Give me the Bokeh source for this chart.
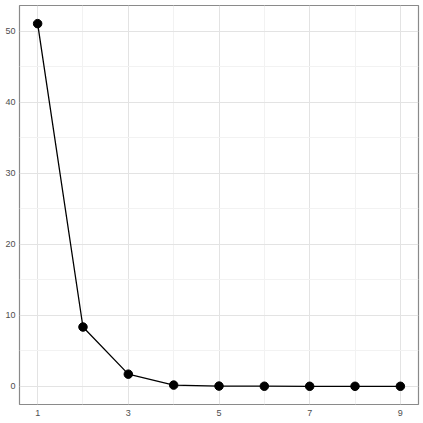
from bokeh.plotting import figure
from bokeh.models import FixedTicker, Range1d
from bokeh.embed import file_html
from bokeh.resources import INLINE

x_vals = [1, 2, 3, 4, 5, 6, 7, 8, 9]
y_vals = [51.1, 8.36, 1.72, 0.18, 0.04, 0.02, 0.01, 0.01, 0.01]
x_major = [1, 3, 5, 7, 9]
x_minor = [2, 4, 6, 8]
y_major = [0, 10, 20, 30, 40, 50]
y_minor = [5, 15, 25, 35, 45]

xr = max(x_vals) - min(x_vals)
yr = max(y_vals) - 0
p = figure(width=422, height=422, output_backend="svg", toolbar_location=None,
           x_range=Range1d(min(x_vals) - 0.05 * xr, max(x_vals) + 0.05 * xr),
           y_range=Range1d(0 - 0.05 * yr, max(y_vals) + 0.05 * yr),
           min_border_left=19, min_border_right=4, min_border_top=5, min_border_bottom=18)

p.xaxis.ticker = FixedTicker(ticks=x_major, minor_ticks=x_minor)
p.yaxis.ticker = FixedTicker(ticks=y_major, minor_ticks=y_minor)

for ax in (p.xaxis, p.yaxis):
    ax.axis_line_color = None
    ax.major_tick_line_color = None
    ax.minor_tick_line_color = None
    ax.major_tick_out = 0
    ax.major_tick_in = 0
    ax.minor_tick_out = 0
    ax.minor_tick_in = 0
    ax.major_label_text_font = "Liberation Sans"
    ax.major_label_text_font_size = "9px"
    ax.major_label_text_color = "#4d4d4d"
p.xaxis.major_label_standoff = 5
p.yaxis.major_label_standoff = 4

for g in (p.xgrid, p.ygrid):
    g.grid_line_color = "#e3e3e3"
    g.grid_line_width = 1
    g.minor_grid_line_color = "#f2f2f2"
    g.minor_grid_line_width = 1

p.outline_line_color = "#8a8a8a"
p.outline_line_width = 1.2
p.background_fill_color = "white"
p.border_fill_color = "white"

p.line(x_vals, y_vals, line_color="black", line_width=1.3)
p.scatter(x_vals, y_vals, size=8.5, fill_color="black", line_color="black")

open("out.html", "w").write(file_html(p, INLINE))
